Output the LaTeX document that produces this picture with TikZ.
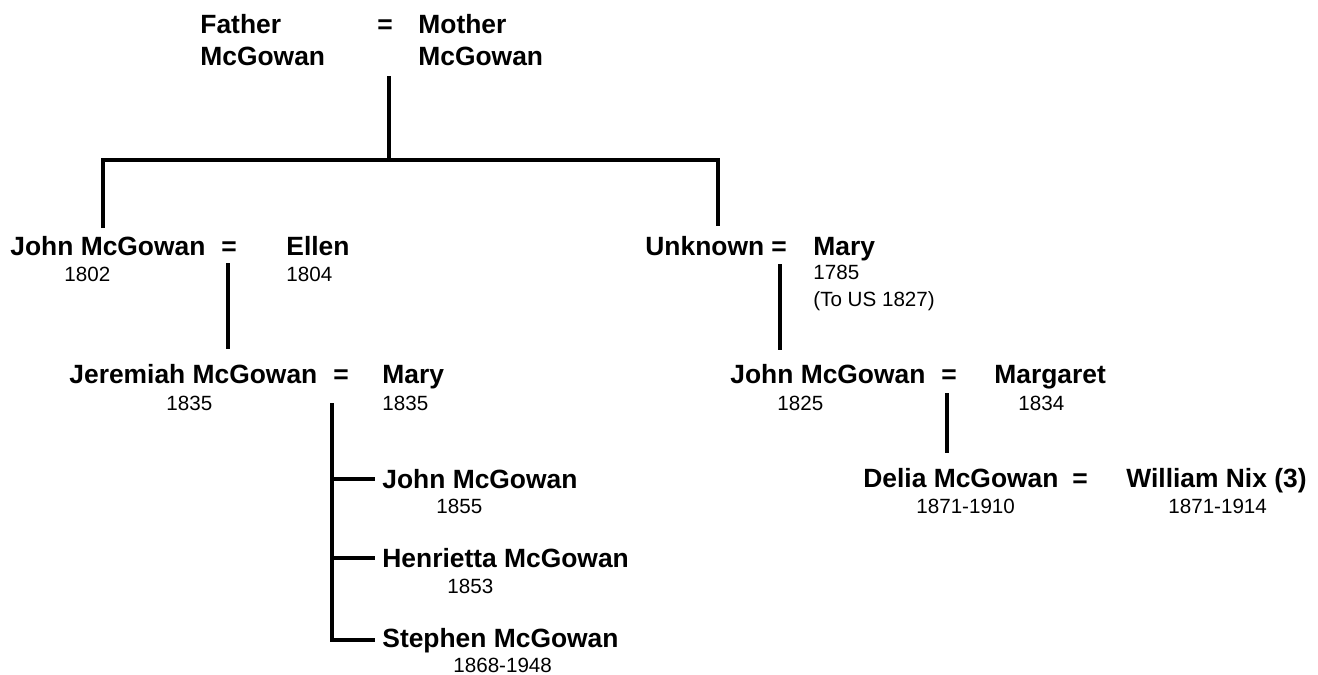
\documentclass[tikz,border=0pt]{standalone}
\usepackage{fontspec}
\setmainfont{Liberation Sans}
\usetikzlibrary{positioning}

\tikzset{
  person/.style={font=\fontsize{13.2}{16}\selectfont\bfseries, anchor=base west, inner sep=0pt, align=left},
  dates/.style={font=\fontsize{10.3}{13.5}\selectfont, anchor=base west, inner sep=0pt, align=left},
  wed/.style={font=\fontsize{13.2}{16}\selectfont\bfseries, anchor=base, inner sep=0pt},
  line/.style={line width=2pt},
}

\begin{document}
\begin{tikzpicture}[x=0.5pt, y=-0.5pt]
    \useasboundingbox (0,0) rectangle (1318,675);
    % parents (base of a two-line node is its last line)
    \node[person] (father) at (200,65) {Father\\McGowan};
    \node[wed] (eqA) at (385,33) {=};
    \node[person] (mother) at (418,65) {Mother\\McGowan};
    % second generation
    \node[person] (john1) at (10,255) {John McGowan};
    \node[dates] at (64,281) {1802};
    \node[wed] (eqB) at (229,255) {=};
    \node[person] (ellen) at (286,255) {Ellen};
    \node[dates] at (286,281) {1804};
    \node[person] (unknown) at (645,255) {Unknown};
    \node[wed] (eqC) at (779,255) {=};
    \node[person] (mary1) at (813,255) {Mary};
    \node[dates] at (813,306) {1785\\(To US 1827)};
    % third generation
    \node[person] (jeremiah) at (69,383) {Jeremiah McGowan};
    \node[dates] at (166,410) {1835};
    \node[wed] (eqD) at (341,383) {=};
    \node[person] (mary2) at (382,383) {Mary};
    \node[dates] at (382,410) {1835};
    \node[person] (john2) at (730,383) {John McGowan};
    \node[dates] at (777,410) {1825};
    \node[wed] (eqE) at (949,383) {=};
    \node[person] (margaret) at (994,383) {Margaret};
    \node[dates] at (1018,410) {1834};
    % children
    \node[person] (kid1) at (382,488) {John McGowan};
    \node[dates] at (436,513) {1855};
    \node[person] (kid2) at (382,567) {Henrietta McGowan};
    \node[dates] at (447,593) {1853};
    \node[person] (kid3) at (382,647) {Stephen McGowan};
    \node[dates] at (453,672) {1868-1948};
    \node[person] (delia) at (863,487) {Delia McGowan};
    \node[dates] at (916,513) {1871-1910};
    \node[wed] (eqF) at (1080,487) {=};
    \node[person] (william) at (1126,487) {William Nix (3)};
    \node[dates] at (1168,513) {1871-1914};

    % lines
    \coordinate (topA) at (389,76);
    \coordinate (barL) at (103,160);
    \coordinate (barR) at (718,160);
    \draw[line] (topA) -- (topA |- barL);
    \draw[line] (103,228) -- (barL) -- (barR) -- (718,226);
    \coordinate (topB) at (228,263);
    \draw[line] (topB) -- (228,349);
    \coordinate (topC) at (780,264);
    \draw[line] (topC) -- (780,350);
    \coordinate (trunk) at (332,403);
    \draw[line] (trunk) -- (trunk |- kid3.west) -- ([xshift=-3.5pt]kid3.west);
    \foreach \k in {kid1,kid2}
        \draw[line] (trunk |- \k.west) -- ([xshift=-3.5pt]\k.west);
    \coordinate (topE) at (947,393);
    \draw[line] (topE) -- (947,453);
\end{tikzpicture}
\end{document}
